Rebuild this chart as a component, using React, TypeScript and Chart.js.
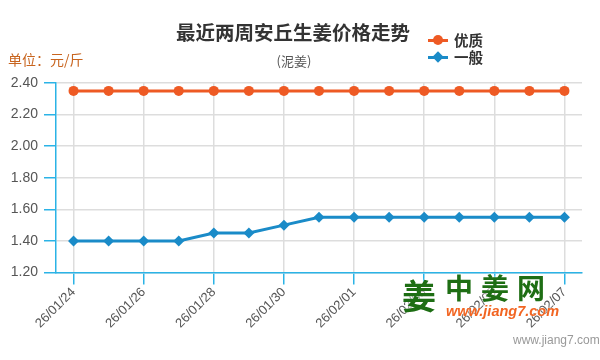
import React, { useEffect, useRef } from "react";
import { Chart, registerables } from "chart.js";

Chart.register(...registerables);

const dates = [
  "26/01/24", "26/01/25", "26/01/26", "26/01/27", "26/01/28", "26/01/29", "26/01/30",
  "26/01/31", "26/02/01", "26/02/02", "26/02/03", "26/02/04", "26/02/05", "26/02/06", "26/02/07",
];
const premium = [2.35, 2.35, 2.35, 2.35, 2.35, 2.35, 2.35, 2.35, 2.35, 2.35, 2.35, 2.35, 2.35, 2.35, 2.35];
const ordinary = [1.4, 1.4, 1.4, 1.4, 1.45, 1.45, 1.5, 1.55, 1.55, 1.55, 1.55, 1.55, 1.55, 1.55, 1.55];
const seriesNames = ["优质", "一般"];

const ORANGE = "#ee5a24";
const BLUE = "#1a8bc8";
const CYAN = "#2bb3e6";
const GRID = "#dddddd";
const CJK = '"Noto Sans CJK SC", "Noto Sans", sans-serif';
const LATIN = '"Liberation Sans", Arial, sans-serif';

export default function App() {
  const ref = useRef<HTMLCanvasElement | null>(null);

  useEffect(() => {
    if (!ref.current) return;
    const chart = new Chart(ref.current, {
      type: "line",
      data: {
        labels: dates,
        datasets: [
          {
            label: seriesNames[0],
            data: premium,
            borderColor: ORANGE,
            backgroundColor: ORANGE,
            borderWidth: 3,
            pointStyle: "circle",
            pointRadius: 5,
            pointBorderWidth: 0,
            tension: 0,
          },
          {
            label: seriesNames[1],
            data: ordinary,
            borderColor: BLUE,
            backgroundColor: BLUE,
            borderWidth: 3,
            pointStyle: "rectRot",
            pointRadius: 5.5,
            pointBorderWidth: 0,
            tension: 0,
          },
        ],
      },
      options: {
        animation: false,
        responsive: false,
        maintainAspectRatio: false,
        layout: { padding: { top: 83, right: 18, left: 0, bottom: 0 } },
        plugins: {
          legend: { display: false },
          tooltip: { enabled: false },
          title: { display: false },
        },
        scales: {
          x: {
            offset: true,
            afterFit: (s: any) => { s.height = 87.5; },
            border: { display: true, color: CYAN, width: 1.5 },
            grid: {
              offset: false,
              color: (c: any) => (c.index % 2 === 0 ? GRID : "rgba(0,0,0,0)"),
              tickColor: (c: any) => (c.index % 2 === 0 ? CYAN : "rgba(0,0,0,0)"),
              tickLength: 12,
              lineWidth: 1.5,
            },
            ticks: {
              autoSkip: false,
              maxRotation: 45,
              minRotation: 45,
              padding: 0,
              color: "#555",
              font: { family: LATIN, size: 13 },
              callback: (_v: any, i: number) => (i % 2 === 0 ? dates[i] : ""),
            },
          },
          y: {
            min: 1.2,
            max: 2.4,
            afterFit: (s: any) => { s.width = 56; },
            border: { display: true, color: CYAN, width: 1.5 },
            grid: {
              color: GRID,
              tickColor: CYAN,
              tickLength: 12,
              lineWidth: 1.5,
            },
            ticks: {
              stepSize: 0.2,
              padding: 6,
              color: "#555",
              font: { family: LATIN, size: 14 },
              callback: (v: any) => Number(v).toFixed(2),
            },
          },
        },
      },
    });
    return () => chart.destroy();
  }, []);

  const legendItem = (color: string, diamond: boolean, text: string, top: number) => (
    <div style={{ position: "absolute", left: 428, top: top - 9, height: 18, display: "flex", alignItems: "center" }}>
      <div style={{ position: "relative", width: 20, height: 18 }}>
        <div style={{ position: "absolute", left: 0, top: 7.5, width: 20, height: 3, background: color }} />
        <div
          style={
            diamond
              ? { position: "absolute", left: 5.5, top: 5, width: 8, height: 8, background: color, transform: "rotate(45deg)" }
              : { position: "absolute", left: 5, top: 4, width: 10, height: 10, borderRadius: 5, background: color }
          }
        />
      </div>
      <span style={{ marginLeft: 6, fontFamily: CJK, fontWeight: 700, fontSize: 14.5, color: "#333", lineHeight: "18px" }}>{text}</span>
    </div>
  );

  return (
    <div style={{ position: "fixed", left: 0, top: 0, width: 600, height: 360, background: "#fff", overflow: "hidden" }}>
      <canvas ref={ref} width={600} height={360} style={{ position: "absolute", left: 0, top: 0 }} />
      <div style={{ position: "absolute", left: 93, width: 400, top: 19, textAlign: "center", fontFamily: CJK, fontWeight: 700, fontSize: 19.5, color: "#333", lineHeight: "26px" }}>
        最近两周安丘生姜价格走势
      </div>
      <div style={{ position: "absolute", left: 194, width: 200, top: 51, textAlign: "center", fontFamily: CJK, fontSize: 13, color: "#555", lineHeight: "20px" }}>
        (泥姜)
      </div>
      <div style={{ position: "absolute", left: 8, top: 49, fontFamily: CJK, fontSize: 14, color: "#c8641e", lineHeight: "20px" }}>
        单位：元/斤
      </div>
      {legendItem(ORANGE, false, seriesNames[0], 40)}
      {legendItem(BLUE, true, seriesNames[1], 57)}
      <div style={{ position: "absolute", left: 402, top: 272, fontFamily: CJK, fontWeight: 700, fontSize: 34, color: "#1e6e14", lineHeight: "46px", textShadow: "0 0 3px #fff" }}>
        姜
      </div>
      <div style={{ position: "absolute", left: 445, top: 270, fontFamily: CJK, fontWeight: 700, fontSize: 28, color: "#1e6e14", lineHeight: "34px", letterSpacing: 8, textShadow: "0 0 3px #fff" }}>
        中姜网
      </div>
      <div style={{ position: "absolute", left: 446, top: 302, fontFamily: LATIN, fontWeight: 700, fontStyle: "italic", fontSize: 14.5, color: "#f26522", lineHeight: "18px", textShadow: "0 0 2px #fff" }}>
        www.jiang7.com
      </div>
      <div style={{ position: "absolute", left: 513, top: 333, fontFamily: LATIN, fontSize: 12, color: "#999", lineHeight: "14px" }}>
        www.jiang7.com
      </div>
    </div>
  );
}
